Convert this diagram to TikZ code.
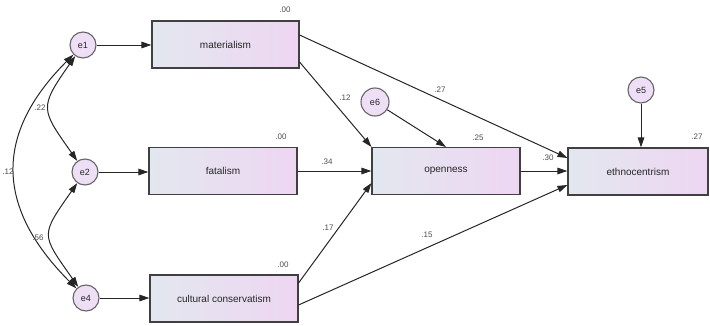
\documentclass[tikz,border=0pt]{standalone}
\usepackage{fontspec}
\setmainfont{Liberation Sans}
\usetikzlibrary{arrows.meta,calc}
\definecolor{boxL}{HTML}{E3E7EF}
\definecolor{boxR}{HTML}{EED6F2}
\definecolor{errF}{HTML}{EEDFF6}
\begin{document}
\begin{tikzpicture}[x=1pt,y=1pt,
  var/.style={draw=black!75, line width=1.1pt, left color=boxL, right color=boxR,
    minimum height=47pt, inner sep=0pt, font=\fontsize{10}{12}\selectfont, text=black!85},
  err/.style={circle, draw=black!60, line width=1.1pt, fill=errF, minimum size=26pt,
    inner sep=0pt, font=\fontsize{9}{11}\selectfont, text=black!85},
  arr/.style={draw=black!85, line width=1pt, -{Triangle[length=10pt,width=6.5pt]}},
  cov/.style={draw=black!85, line width=1pt, {Triangle[length=10pt,width=6.5pt]}-{Triangle[length=10pt,width=6.5pt]}},
  num/.style={font=\fontsize{8}{9}\selectfont, text=black!70, inner sep=0pt}
]
\useasboundingbox (0,0) rectangle (710,325);

% observed variables
\node[var, minimum width=147pt] (mat) at (225.5,280.5) {materialism};
\node[var, minimum width=148pt] (fat) at (223,154) {fatalism};
\node[var, minimum width=148pt] (cul) at (224,26.5) {cultural conservatism};
\node[var, minimum width=148pt] (opn) at (446,154) {openness};
\node[var, minimum width=140pt] (eth) at (638,153.5) {ethnocentrism};

% error terms
\node[err] (e1) at (83,280) {e1};
\node[err] (e2) at (85,153) {e2};
\node[err] (e4) at (86,27) {e4};
\node[err, minimum size=28pt] (e6) at (375,223) {e6};
\node[err] (e5) at (641,235) {e5};

% squared multiple correlations
\node[num] (r1) at (285,315) {.00};
\node[num] (r2) at (281,188) {.00};
\node[num] (r3) at (283,60) {.00};
\node[num] (r4) at (478,187) {.25};
\node[num] (r5) at (697,188) {.27};

% error arrows
\draw[arr] (e1) -- (mat.west |- e1);
\draw[arr] (e2) -- (fat.west |- e2);
\draw[arr] (e4) -- (cul.west |- e4);
\draw[arr] (e6) -- (opn.north);
\draw[arr] (e5) -- (e5 |- eth.north);

% structural paths
\draw[arr] ([yshift=-17.5pt]mat.east) -- (opn.north west);
\draw[arr] ([yshift=9.5pt]mat.east) -- ([yshift=13.5pt]eth.west);
\draw[arr] (fat.east) -- (opn.west);
\draw[arr] ([yshift=15.5pt]cul.east) -- ([yshift=-12pt]opn.west);
\draw[arr] ([yshift=-6.5pt]cul.east) -- ([yshift=-13.5pt]eth.west);
\draw[arr] (opn.east) -- (eth.west |- opn.east);

% path coefficients
\node[num] (c1) at (345,227) {.12};
\node[num] (c2) at (440,235) {.27};
\node[num] (c3) at (327,163) {.34};
\node[num] (c4) at (548,167) {.30};
\node[num] (c5) at (328,97) {.17};
\node[num] (c6) at (427,90) {.15};

% covariances
\draw[cov] (e1) to[out=235,in=125,looseness=1.55] (e2);
\draw[cov] (e2) to[out=235,in=125,looseness=1.6] (e4);
\draw[cov] (e1) to[out=225,in=135,looseness=1.24] (e4);
\node[num] (k1) at (40,217) {.22};
\node[num] (k2) at (38,87) {.56};
\node[num] (k3) at (8,153) {.12};
\end{tikzpicture}
\end{document}
